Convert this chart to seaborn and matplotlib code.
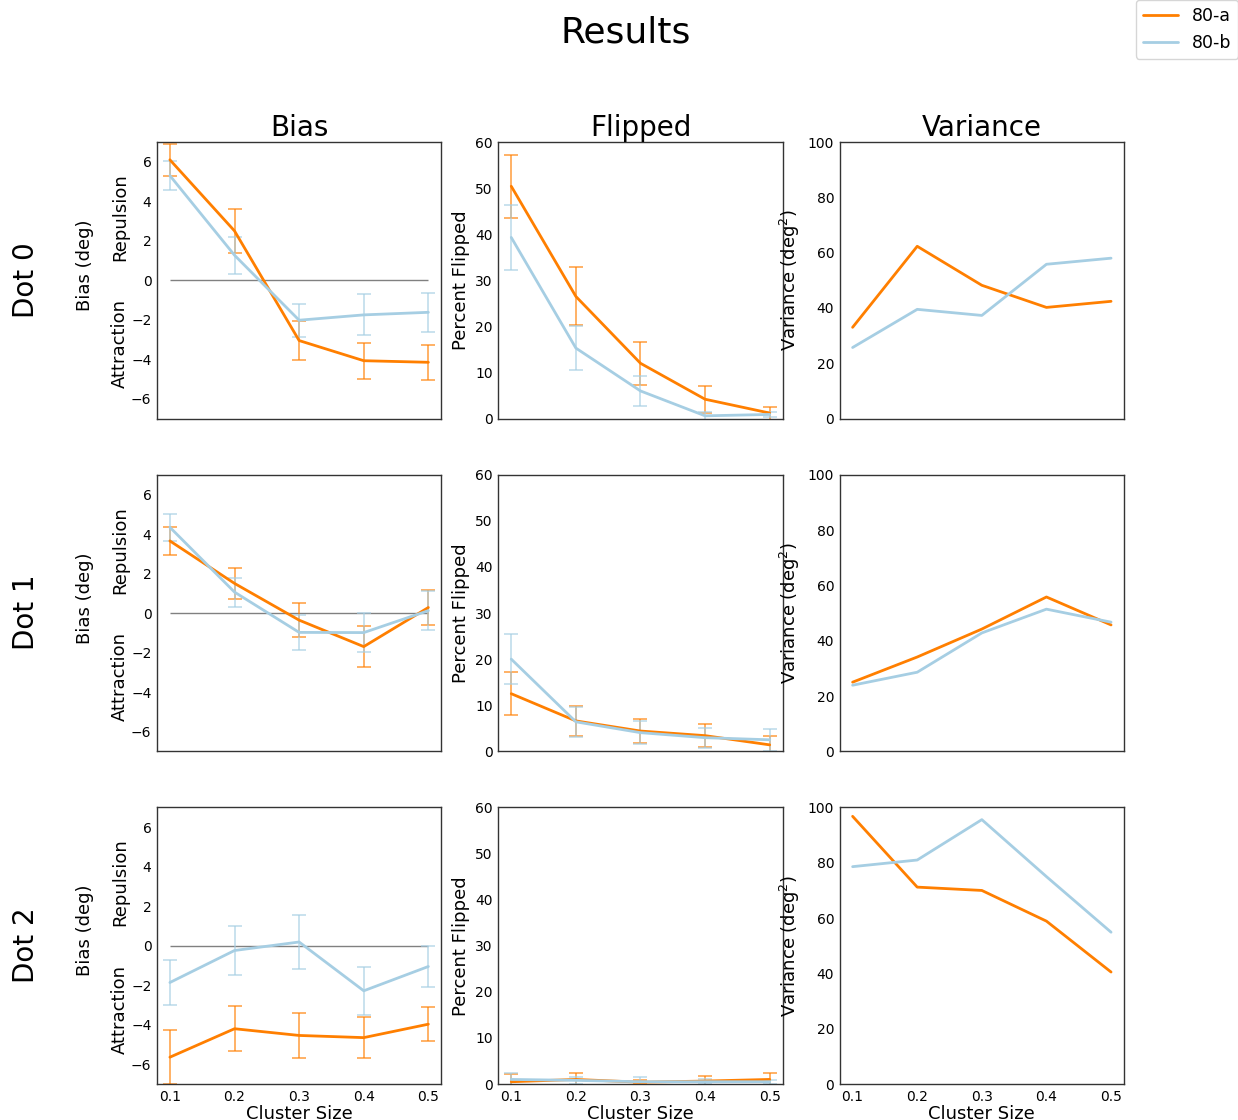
import numpy as np
import pandas as pd
import seaborn as sns
import matplotlib
matplotlib.use('Agg')
import matplotlib.pyplot as plt
from matplotlib.lines import Line2D

# Cluster sizes on the x axis
cluster_sizes = [0.1, 0.2, 0.3, 0.4, 0.5]
conditions = ['80-a', '80-b']
dots = ['Dot 0', 'Dot 1', 'Dot 2']

# Bias (deg), one list per dot
bias_a = [[6.1, 2.5, -3.05, -4.07, -4.15],
          [3.65, 1.5, -0.36, -1.7, 0.28],
          [-5.64, -4.2, -4.54, -4.65, -3.97]]
bias_a_err = [[0.8, 1.1, 0.98, 0.92, 0.88],
              [0.7, 0.8, 0.87, 1.03, 0.9],
              [1.37, 1.15, 1.16, 1.05, 0.85]]
bias_b = [[5.3, 1.27, -2.02, -1.75, -1.62],
          [4.34, 1.06, -0.98, -0.99, 0.12],
          [-1.86, -0.24, 0.19, -2.28, -1.05]]
bias_b_err = [[0.72, 0.93, 0.84, 1.04, 1.0],
              [0.67, 0.73, 0.9, 0.99, 0.98],
              [1.16, 1.23, 1.35, 1.2, 1.03]]

# Percent flipped
flip_a = [[50.4, 26.5, 12.0, 4.2, 1.2],
          [12.5, 6.6, 4.4, 3.4, 1.4],
          [0.5, 1.0, 0.4, 0.65, 1.0]]
flip_a_err = [[6.8, 6.3, 4.7, 2.9, 1.4],
              [4.6, 3.3, 2.7, 2.5, 1.9],
              [1.6, 1.5, 0.4, 1.0, 1.5]]
flip_b = [[39.3, 15.3, 6.0, 0.6, 0.9],
          [20.0, 6.4, 4.05, 2.96, 2.5],
          [1.0, 0.8, 0.5, 0.5, 0.5]]
flip_b_err = [[7.1, 4.8, 3.3, 0.9, 0.5],
              [5.5, 3.2, 2.5, 2.2, 2.4],
              [1.5, 0.8, 1.1, 0.5, 0.4]]

# Variance (deg^2)
var_a = [[33.0, 62.3, 48.2, 40.2, 42.4],
         [25.0, 34.1, 44.2, 55.8, 45.7],
         [96.8, 71.2, 70.0, 58.9, 40.5]]
var_b = [[25.7, 39.5, 37.3, 55.8, 58.0],
         [23.9, 28.6, 42.8, 51.4, 46.7],
         [78.6, 81.0, 95.6, 75.0, 54.9]]

sns.set_style("white")
plt.rcParams['font.family'] = ['DejaVu Sans']
plt.rcParams['text.color'] = 'black'
plt.rcParams['axes.labelcolor'] = 'black'
plt.rcParams['xtick.color'] = 'black'
plt.rcParams['ytick.color'] = 'black'
pal = sns.color_palette("Paired")
colors = [pal[7], pal[0]]

fig, axes = plt.subplots(3, 3, figsize=(12.38, 11.2), dpi=100)
fig.subplots_adjust(left=0.1268, right=0.9079, bottom=0.0321, top=0.8732,
                    wspace=0.2007, hspace=0.203)


def draw_panel(ax, means, errs):
    for mean, err, col, name in zip(means, errs, colors, conditions):
        if err is not None:
            ax.errorbar(cluster_sizes, mean, yerr=err, fmt='none', ecolor=col,
                        alpha=0.7, capsize=5, elinewidth=1.2, capthick=1.2,
                        zorder=2)
        df = pd.DataFrame({'x': cluster_sizes, 'y': mean})
        sns.lineplot(data=df, x='x', y='y', color=col, lw=2, ax=ax,
                     legend=False, zorder=3)


for r in range(3):
    # Bias
    ax = axes[r, 0]
    ax.hlines(0, 0.1, 0.5, color='gray', lw=1, zorder=1)
    draw_panel(ax, [bias_a[r], bias_b[r]], [bias_a_err[r], bias_b_err[r]])
    ax.set_ylim(-7, 7)
    ax.set_yticks([-6, -4, -2, 0, 2, 4, 6])
    ax.set_ylabel('')
    ax.text(-0.254, 0.555, 'Bias (deg)', rotation=90, ha='center',
            va='center', fontsize=13, transform=ax.transAxes)
    ax.text(-0.13, 0.729, 'Repulsion', rotation=90, ha='center',
            va='center', fontsize=13, transform=ax.transAxes)
    ax.text(-0.13, 0.271, 'Attraction', rotation=90, ha='center',
            va='center', fontsize=13, transform=ax.transAxes)

    # Flipped
    ax = axes[r, 1]
    draw_panel(ax, [flip_a[r], flip_b[r]], [flip_a_err[r], flip_b_err[r]])
    ax.set_ylim(0, 60)
    ax.set_yticks(range(0, 61, 10))
    ax.set_ylabel('Percent Flipped', fontsize=13)

    # Variance
    ax = axes[r, 2]
    draw_panel(ax, [var_a[r], var_b[r]], [None, None])
    ax.set_ylim(0, 100)
    ax.set_yticks(range(0, 101, 20))
    ax.set_ylabel('Variance (deg$^2$)', fontsize=13)

    fig.text(0.021, [0.75, 0.4536, 0.1558][r], dots[r], rotation=90,
             ha='center', va='center', fontsize=20)

for r in range(3):
    for c in range(3):
        ax = axes[r, c]
        ax.set_xlim(0.08, 0.52)
        ax.set_xticks(cluster_sizes)
        ax.tick_params(length=0, labelsize=10, pad=4)
        for s in ax.spines.values():
            s.set_color('0.2')
            s.set_linewidth(1)
        if r < 2:
            ax.set_xticklabels([])
            ax.set_xlabel('')
        else:
            ax.set_xticklabels([str(v) for v in cluster_sizes])
            ax.set_xlabel('Cluster Size', fontsize=13, labelpad=1)

for c, t in enumerate(['Bias', 'Flipped', 'Variance']):
    axes[0, c].set_title(t, fontsize=20, pad=2)

fig.text(0.505, 0.971, 'Results', ha='center', va='center', fontsize=26)

handles = [Line2D([0], [0], color=col, lw=2) for col in colors]
fig.legend(handles, conditions, loc='upper right', bbox_to_anchor=(1.0, 1.0),
           fontsize=12.5, borderaxespad=0.0, frameon=True)

fig.savefig('out.png', dpi=100)
